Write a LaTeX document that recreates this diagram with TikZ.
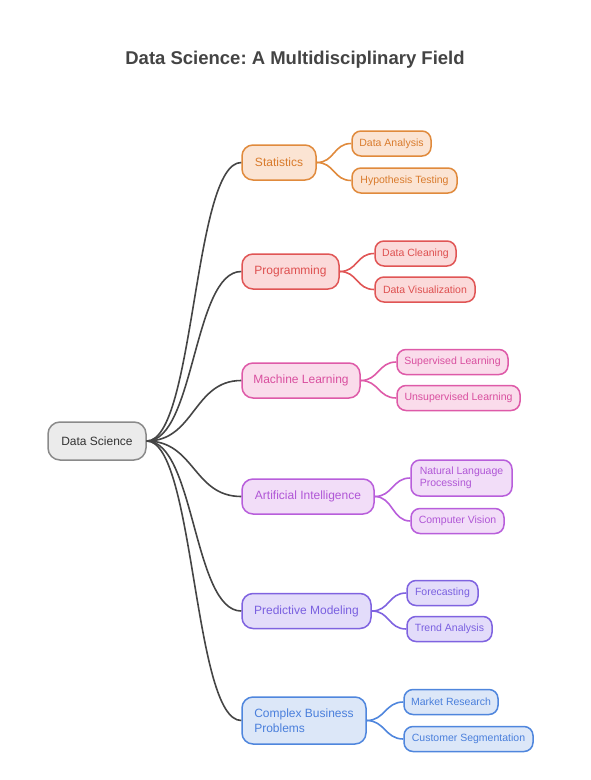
\documentclass[tikz,border=0pt]{standalone}
\usepackage{fontspec}
\setmainfont{Liberation Sans}
\frenchspacing
\definecolor{rootB}{HTML}{8A8A8A}\definecolor{rootF}{HTML}{EBEBEB}\definecolor{rootT}{HTML}{333333}
\definecolor{oB}{HTML}{E08A3C}\definecolor{oF}{HTML}{FBE4D3}\definecolor{oT}{HTML}{D97B2C}
\definecolor{rB}{HTML}{E05555}\definecolor{rF}{HTML}{FBDADA}\definecolor{rT}{HTML}{DE5050}
\definecolor{pB}{HTML}{DE5AA8}\definecolor{pF}{HTML}{FADCEB}\definecolor{pT}{HTML}{D94F9F}
\definecolor{vB}{HTML}{B85EDB}\definecolor{vF}{HTML}{F2DDF8}\definecolor{vT}{HTML}{B056D6}
\definecolor{lB}{HTML}{7F63E0}\definecolor{lF}{HTML}{E3DCFA}\definecolor{lT}{HTML}{7A60E0}
\definecolor{bB}{HTML}{4F86DD}\definecolor{bF}{HTML}{DCE7F8}\definecolor{bT}{HTML}{4A7FDC}
\definecolor{linkC}{HTML}{454545}\definecolor{titleC}{HTML}{444444}
\begin{document}
\begin{tikzpicture}[x=1pt,y=-1pt,
  base/.style={draw, line width=1.5pt, inner sep=0pt},
  rootbox/.style={base, rounded corners=12pt, minimum height=38pt, draw=rootB, fill=rootF, text=rootT, font=\fontsize{12}{14}\selectfont},
  cat/.style={base, rounded corners=11pt, minimum height=35pt, font=\fontsize{12}{14.5}\selectfont},
  leaf/.style={base, rounded corners=9pt, minimum height=25pt, font=\fontsize{10.5}{12.5}\selectfont},
  brO/.style={draw=oB, fill=oF, text=oT},
  brR/.style={draw=rB, fill=rF, text=rT},
  brP/.style={draw=pB, fill=pF, text=pT},
  brV/.style={draw=vB, fill=vF, text=vT},
  brL/.style={draw=lB, fill=lF, text=lT},
  brB/.style={draw=bB, fill=bF, text=bT},
  link/.style={draw=linkC, line width=1.6pt},
  sub/.style={line width=1.6pt}
]
\useasboundingbox (0,0) rectangle (591,780);
\node[font=\fontsize{18.5}{22}\selectfont\bfseries, text=titleC] (title) at (295,60) {Data Science: A Multidisciplinary Field};

\node[rootbox, minimum width=98pt] (ds) at (97,441) {Data Science};

\node[cat, brO, minimum width=74pt] (stat) at (279,162.5) {Statistics};
\node[leaf, brO, minimum width=79pt] (da) at (391.5,143.5) {Data Analysis};
\node[leaf, brO, minimum width=105pt] (ht) at (404.5,180.5) {Hypothesis Testing};

\node[cat, brR, minimum width=97pt] (prog) at (290.5,271.5) {Programming};
\node[leaf, brR, minimum width=81pt] (dc) at (415.5,253.5) {Data Cleaning};
\node[leaf, brR, minimum width=100pt] (dv) at (425,289.5) {Data Visualization};

\node[cat, brP, minimum width=118pt] (ml) at (301,380.5) {Machine Learning};
\node[leaf, brP, minimum width=111pt] (sl) at (452.5,362) {Supervised Learning};
\node[leaf, brP, minimum width=123pt] (ul) at (458.5,398) {Unsupervised Learning};

\node[cat, brV, minimum width=132pt] (ai) at (308,496.5) {Artificial Intelligence};
\node[leaf, brV, minimum width=101pt, minimum height=36pt, align=left] (nlp) at (461.5,478) {Natural Language\\Processing};
\node[leaf, brV, minimum width=93pt] (cv) at (457.5,521) {Computer Vision};

\node[cat, brL, minimum width=129pt] (pm) at (306.5,611) {Predictive Modeling};
\node[leaf, brL, minimum width=71pt] (fc) at (442.5,593) {Forecasting};
\node[leaf, brL, minimum width=85pt] (ta) at (449.5,629) {Trend Analysis};

\node[cat, brB, minimum width=124pt, minimum height=47pt, align=left] (cbp) at (304,720.5) {Complex Business\\Problems};
\node[leaf, brB, minimum width=94pt] (mr) at (451,702) {Market Research};
\node[leaf, brB, minimum width=129pt] (cs) at (468.5,739) {Customer Segmentation};

\foreach \c in {stat,prog,ml,ai,pm,cbp}{
  \draw[link] (ds.east) .. controls +(48,0) and +(-48,0) .. (\c.west);
}
\draw[sub, oB] (stat.east) .. controls +(18,0) and +(-18,0) .. (da.west);
\draw[sub, oB] (stat.east) .. controls +(18,0) and +(-18,0) .. (ht.west);
\draw[sub, rB] (prog.east) .. controls +(18,0) and +(-18,0) .. (dc.west);
\draw[sub, rB] (prog.east) .. controls +(18,0) and +(-18,0) .. (dv.west);
\draw[sub, pB] (ml.east) .. controls +(18,0) and +(-18,0) .. (sl.west);
\draw[sub, pB] (ml.east) .. controls +(18,0) and +(-18,0) .. (ul.west);
\draw[sub, vB] (ai.east) .. controls +(18,0) and +(-18,0) .. (nlp.west);
\draw[sub, vB] (ai.east) .. controls +(18,0) and +(-18,0) .. (cv.west);
\draw[sub, lB] (pm.east) .. controls +(18,0) and +(-18,0) .. (fc.west);
\draw[sub, lB] (pm.east) .. controls +(18,0) and +(-18,0) .. (ta.west);
\draw[sub, bB] (cbp.east) .. controls +(18,0) and +(-18,0) .. (mr.west);
\draw[sub, bB] (cbp.east) .. controls +(18,0) and +(-18,0) .. (cs.west);
\end{tikzpicture}
\end{document}
